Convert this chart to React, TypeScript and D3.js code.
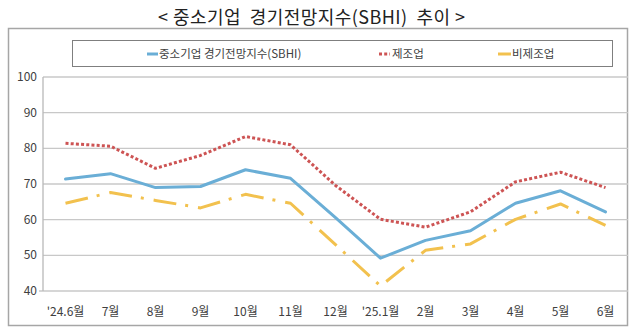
import React from "react";
import * as d3 from "d3";

const categories = ["'24.6월", "7월", "8월", "9월", "10월", "11월", "12월", "'25.1월", "2월", "3월", "4월", "5월", "6월"];
const sbhi = [71.4, 72.9, 69.0, 69.3, 74.0, 71.6, 60.6, 49.2, 54.2, 56.9, 64.6, 68.1, 62.2];
const manufacturing = [81.4, 80.6, 74.4, 78.0, 83.3, 81.0, 69.6, 60.1, 57.9, 62.2, 70.6, 73.3, 69.0];
const nonManufacturing = [64.6, 67.6, 65.4, 63.3, 67.1, 64.6, 53.0, 41.4, 51.4, 53.2, 60.1, 64.4, 58.4];
const yTicks = [40, 50, 60, 70, 80, 90, 100];
const titleText = "< 중소기업  경기전망지수(SBHI)  추이 >";
const legendLabels = ["중소기업 경기전망지수(SBHI)", "제조업", "비제조업"];

const FONT = "'Noto Sans CJK KR', 'Noto Sans', sans-serif";

export default function App() {
  const W = 640, H = 330;
  const plotLeft = 43, plotRight = 628, plotTop = 77, plotBottom = 291;
  const x = d3.scalePoint<string>().domain(categories).range([plotLeft, plotRight]).padding(0.5);
  const y = d3.scaleLinear().domain([40, 100]).range([plotBottom, plotTop]);
  const line = d3.line<number>().x((_, i) => x(categories[i]) as number).y((d) => y(d));

  const series = [
    { data: sbhi, color: "#6aaed6", dash: undefined as string | undefined, width: 3, cap: "round" },
    { data: manufacturing, color: "#cd5454", dash: "3,2.2", width: 3, cap: "butt" },
    { data: nonManufacturing, color: "#f2c14e", dash: "23,9,3,10", width: 3, cap: "butt" },
  ];

  return (
    <svg width={W} height={H} style={{ position: "absolute", left: 0, top: 0, background: "#fff" }} fontFamily={FONT}>
      <text x={158} y={24} fontSize={18} fill="#222" fontWeight={400} textLength={307} lengthAdjust="spacing" xmlSpace="preserve">{titleText}</text>
      <rect x={8.5} y={28.5} width={619} height={297} fill="#fff" stroke="#a6a6a6" strokeWidth={1.5} />
      {/* legend */}
      <rect x={72.5} y={40.5} width={540} height={26} fill="#fff" stroke="#7f7f7f" strokeWidth={1} />
      <g fontSize={11.5} fill="#404040">
        <line x1={147} x2={158} y1={54} y2={54} stroke={series[0].color} strokeWidth={3} />
        <text x={159} y={58}>{legendLabels[0]}</text>
        <line x1={379} x2={390} y1={54} y2={54} stroke={series[1].color} strokeWidth={3} strokeDasharray="3,2.2" />
        <text x={392} y={58}>{legendLabels[1]}</text>
        <line x1={498} x2={511} y1={54} y2={54} stroke={series[2].color} strokeWidth={3} />
        <text x={512} y={58}>{legendLabels[2]}</text>
      </g>
      {/* grid */}
      {yTicks.map((t) => (
        <g key={t}>
          <line x1={t === 40 ? plotLeft - 4 : plotLeft} x2={plotRight} y1={y(t)} y2={y(t)} stroke="#c8c8c8" strokeWidth={1.3} />
          <text x={37} y={y(t) + 4} textAnchor="end" fontSize={12} fill="#404040">{t}</text>
        </g>
      ))}
      <line x1={plotLeft} x2={plotLeft} y1={plotTop} y2={plotBottom} stroke="#b8b8b8" strokeWidth={1.3} />
      {categories.map((c) => (
        <text key={c} x={x(c)} y={316} textAnchor="middle" fontSize={12} fill="#404040">{c}</text>
      ))}
      {series.map((s, i) => (
        <path key={i} d={line(s.data) ?? ""} fill="none" stroke={s.color} strokeWidth={s.width}
          strokeDasharray={s.dash} strokeLinecap={s.cap as any} strokeLinejoin="round" />
      ))}
    </svg>
  );
}
